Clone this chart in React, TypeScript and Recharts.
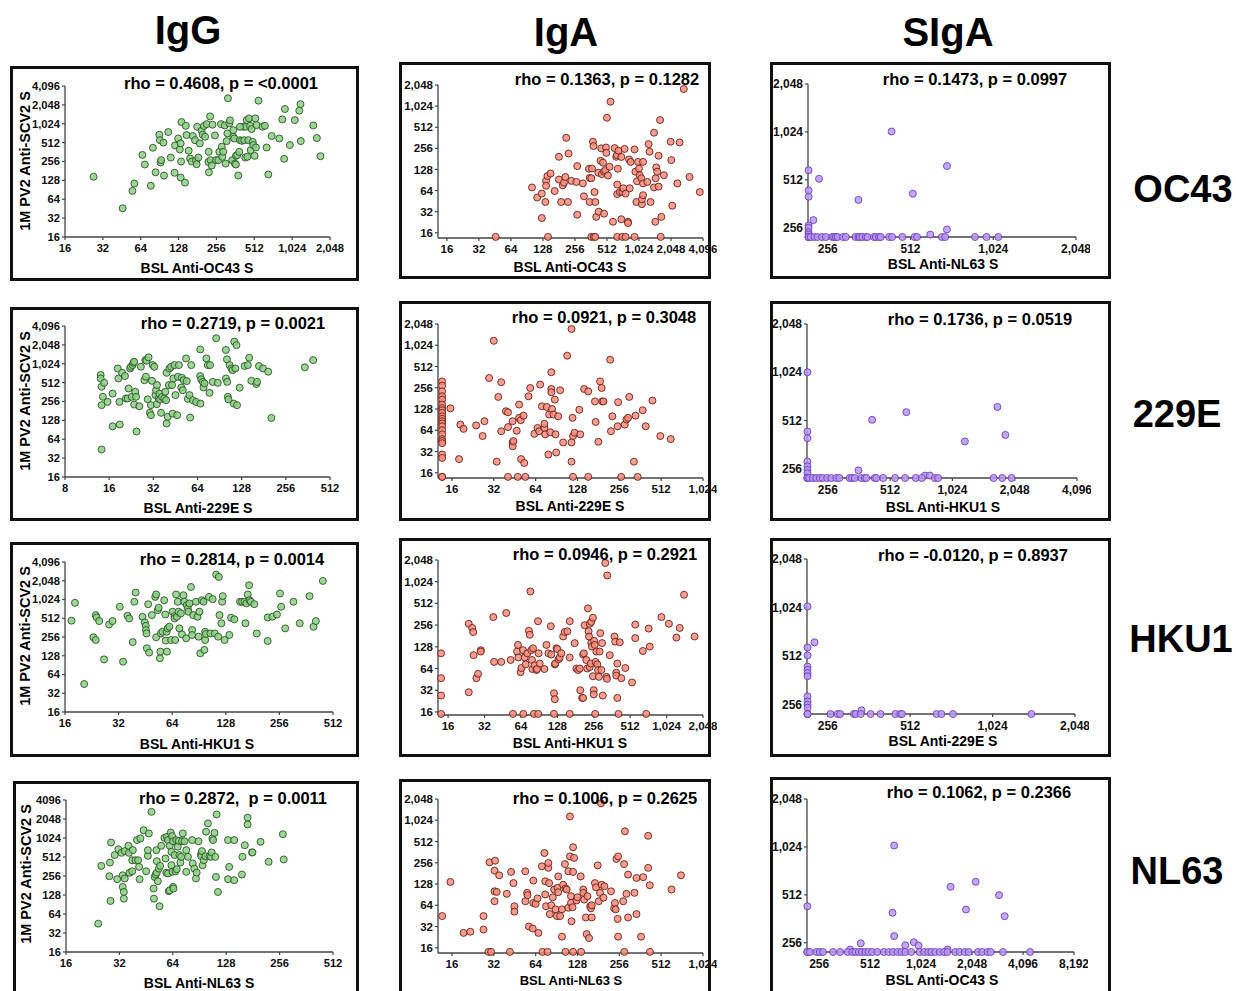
import React from 'react';
import { ScatterChart, Scatter, XAxis, YAxis } from 'recharts';

type Pt = [number, number];

// ---------- tick labels ----------
const iggYTicks = [16, 32, 64, 128, 256, 512, 1024, 2048, 4096];
const igaYTicks = [16, 32, 64, 128, 256, 512, 1024, 2048];
const sigaYTicks = [256, 512, 1024, 2048];
const iggOC43XTicks = [16, 32, 64, 128, 256, 512, 1024, 2048];
const igg229EXTicks = [8, 16, 32, 64, 128, 256, 512];
const iggHKU1XTicks = [16, 32, 64, 128, 256, 512];
const iggNL63XTicks = [16, 32, 64, 128, 256, 512];
const igaOC43XTicks = [16, 32, 64, 128, 256, 512, 1024, 2048, 4096];
const iga229EXTicks = [16, 32, 64, 128, 256, 512, 1024];
const igaHKU1XTicks = [16, 32, 64, 128, 256, 512, 1024, 2048];
const igaNL63XTicks = [16, 32, 64, 128, 256, 512, 1024];
const sigaNL63XTicks = [256, 512, 1024, 2048];
const sigaHKU1XTicks = [256, 512, 1024, 2048, 4096];
const siga229EXTicks = [256, 512, 1024, 2048];
const sigaOC43XTicks = [256, 512, 1024, 2048, 4096, 8192];

const columnTitles = ['IgG', 'IgA', 'SIgA'];
const rowTitles = ['OC43', '229E', 'HKU1', 'NL63'];
const yAxisTitle = '1M PV2 Anti-SCV2 S';
const rhoLabels = [
  'rho = 0.4608, p = <0.0001', 'rho = 0.1363, p = 0.1282', 'rho = 0.1473, p = 0.0997',
  'rho = 0.2719, p = 0.0021', 'rho = 0.0921, p = 0.3048', 'rho = 0.1736, p = 0.0519',
  'rho = 0.2814, p = 0.0014', 'rho = 0.0946, p = 0.2921', 'rho = -0.0120, p = 0.8937',
  'rho = 0.2872,  p = 0.0011', 'rho = 0.1006, p = 0.2625', 'rho = 0.1062, p = 0.2366',
];
const xLabels = [
  'BSL Anti-OC43 S', 'BSL Anti-OC43 S', 'BSL Anti-NL63 S',
  'BSL Anti-229E S', 'BSL Anti-229E S', 'BSL Anti-HKU1 S',
  'BSL Anti-HKU1 S', 'BSL Anti-HKU1 S', 'BSL Anti-229E S',
  'BSL Anti-NL63 S', 'BSL Anti-NL63 S', 'BSL Anti-OC43 S',
];

// ---------- data ----------
const iggOC43: Pt[] = [[27,146],[46,46],[55,87],[57,114],[66,326],[69,229],[77,105],[80,424],[84,172],[90,685],[91,560],[92,247],[93,269],[97,512],[98,153],[106,755],[111,296],[119,169],[120,461],[127,596],[131,399],[133,498],[134,256],[135,1090],[133,142],[144,118],[146,949],[148,676],[154,380],[158,286],[163,256],[166,653],[173,560],[176,265],[178,232],[180,917],[184,296],[189,498],[195,792],[199,685],[204,942],[208,635],[214,1010],[221,252],[222,365],[223,172],[228,1341],[230,269],[235,221],[238,989],[249,666],[254,269],[265,269],[270,365],[278,1010],[282,440],[285,304],[290,365],[298,962],[303,237],[309,541],[313,719],[316,2610],[324,1038],[328,1160],[342,269],[349,809],[349,635],[355,596],[359,237],[366,315],[366,229],[375,324],[382,153],[389,365],[394,560],[408,547],[418,917],[426,560],[434,296],[440,917],[446,1170],[451,304],[459,560],[465,1245],[474,949],[479,388],[488,843],[497,526],[503,468],[515,315],[522,1245],[528,428],[534,975],[553,2390],[596,917],[622,949],[662,159],[642,428],[704,653],[809,596],[855,1202],[885,282],[897,1758],[982,468],[1075,1170],[1167,1652],[1193,2105],[1200,541],[1510,962],[1610,605],[1720,311],[394,917]];

const igaOC43: Pt[] = [[46,14],[143,14],[365,14],[385,14],[398,14],[640,14],[714,14],[767,14],[930,14],[1640,14],[101,71],[113,51],[125,58],[125,26],[135,44],[137,88],[137,75],[141,103],[151,112],[165,63],[181,194],[181,92],[190,44],[197,76],[202,83],[208,100],[212,362],[220,44],[223,216],[237,88],[264,85],[269,143],[269,29],[304,81],[311,53],[347,131],[352,97],[352,44],[365,96],[370,132],[378,318],[383,276],[391,61],[398,44],[406,27],[425,115],[428,32],[446,170],[452,256],[458,110],[470,160],[481,119],[481,30],[494,125],[502,263],[505,221],[512,699],[523,105],[542,140],[553,1184],[583,23],[605,258],[626,194],[635,205],[640,57],[640,78],[648,131],[657,237],[676,61],[699,193],[699,25],[714,61],[730,69],[750,251],[767,58],[808,23],[808,22],[826,178],[838,69],[855,164],[930,247],[948,119],[968,44],[982,87],[1004,164],[1024,132],[1040,106],[1077,96],[1092,41],[1092,48],[1118,55],[1118,81],[1118,164],[1229,85],[1263,294],[1287,229],[1315,44],[1418,71],[1418,428],[1458,23],[1469,96],[1489,137],[1520,119],[1566,73],[1566,201],[1617,648],[1663,27],[1758,106],[2034,318],[2060,174],[2105,39],[2350,81],[2470,311],[2700,1795],[3060,100],[3820,61]];

const sigaNL63: Pt[] = [[218,588],[218,439],[218,401],[218,265],[218,256],[218,240],[218,232],[218,224],[218,224],[218,224],[437,1030],[695,625],[522,419],[331,383],[695,250],[604,232],[238,520],[227,286],[222,224],[229,224],[235,224],[244,224],[252,224],[266,224],[270,224],[274,224],[278,224],[291,224],[298,224],[323,224],[331,224],[335,224],[342,224],[352,224],[357,224],[377,224],[383,224],[393,224],[399,224],[428,224],[439,224],[478,224],[530,224],[541,224],[666,224],[685,224],[879,224],[968,224],[1068,224]];

const igg229E: Pt[] = [[14.0,676],[14.0,596],[14.2,440],[14.2,224],[14.2,44],[14.5,304],[14.8,508],[15.6,252],[16.9,342],[16.9,103],[18.3,861],[18.5,596],[18.8,252],[18.9,110],[19.6,734],[20.5,652],[20.8,286],[21.4,286],[21.7,413],[22.2,861],[22.5,917],[22.8,304],[23.1,975],[23.4,1061],[23.7,1103],[23.7,229],[24.1,365],[24.4,304],[24.6,85],[25.7,215],[26.3,917],[27.8,560],[28.2,1170],[28.5,635],[28.8,1143],[29.3,278],[29.7,1296],[30.3,169],[30.8,155],[30.8,224],[31.3,547],[31.7,975],[32.5,917],[33.1,324],[33.4,388],[33.8,232],[33.9,468],[34.8,286],[35.2,342],[35.6,276],[36.1,169],[36.7,304],[38.0,286],[38.6,365],[39.1,269],[39.4,114],[39.4,734],[40.1,146],[40.8,468],[41.2,861],[42.3,917],[42.9,468],[43.3,164],[43.8,596],[44.6,975],[45.3,324],[46.5,155],[47.0,635],[47.8,975],[49.6,428],[50.0,613],[50.8,388],[51.6,560],[53.5,1245],[54.0,541],[55.0,282],[56.4,324],[57.0,142],[58.0,975],[59.5,269],[62.6,252],[67.0,237],[66.8,1733],[66.8,652],[67.8,578],[69.6,526],[70.3,428],[71.5,498],[73.5,1245],[75.3,975],[77.3,352],[78.0,975],[81.3,526],[85.8,2610],[88.0,508],[100,1698],[100,596],[101.6,1202],[102,526],[103,304],[104,276],[106,975],[109,861],[111,809],[113,237],[114,2300],[116,861],[118,2030],[119,224],[124,425],[134,942],[141,975],[144,1278],[149,547],[161,486],[163,526],[168,942],[179,861],[194,765],[204,140],[345,898],[393,1170]];

const iga229E: Pt[] = [[13.6,315],[13.6,274],[13.6,228],[13.6,194],[13.6,174],[13.6,148],[13.6,132],[13.6,123],[13.6,113],[13.6,101],[13.6,93],[13.6,86],[13.6,80],[13.6,73],[13.6,64],[13.6,56],[13.6,48],[13.6,45],[13.6,42],[13.6,29],[13.6,26],[13.6,14],[13.6,14],[15.6,131],[18.4,77],[18.0,25],[19.4,67],[23.9,75],[26.6,53],[27.4,86],[29.6,352],[32,1184],[33.6,23],[36.2,62],[36.2,307],[34.5,190],[39.1,119],[40.5,115],[40.5,71],[43.7,86],[43.7,43],[43.8,38],[44.3,45],[46.8,63],[48.7,96],[50,89],[52.4,103],[50.3,25],[53,22],[48.7,148],[56.9,194],[58.5,254],[62.7,57],[66,69],[67.8,62],[69,284],[71,140],[74,69],[75,56],[74,79],[77,137],[79,29],[80,107],[81.6,60],[83,425],[83,246],[83,221],[84,128],[86,107],[88,174],[89,56],[90,31],[93,101],[96,236],[101,43],[108,729],[116,23],[118,96],[119,53],[116,43],[122,59],[132,125],[134,56],[143,246],[153,228],[171,164],[173,84],[181,44],[186,315],[191,254],[193,164],[197,164],[220,639],[223,62],[228,101],[249,73],[251,160],[280,77],[288,91],[296,96],[302,190],[326,23],[335,103],[377,123],[396,73],[443,169],[505,53],[600,48],[116,1740],[40.5,14],[47.6,14],[54,14],[119,14],[153,14],[264,14],[347,14]];

const sigaHKU1: Pt[] = [[204,1024],[204,437],[204,397],[204,284],[204,265],[204,252],[204,240],[204,224],[204,224],[204,224],[419,517],[613,577],[1176,379],[1690,622],[1846,416],[360,250],[755,232],[797,232],[208,224],[217,224],[225,224],[234,224],[242,224],[254,224],[266,224],[281,224],[291,224],[326,224],[335,224],[345,224],[372,224],[386,224],[393,224],[431,224],[439,224],[474,224],[541,224],[605,224],[681,224],[729,224],[843,224],[873,224],[1618,224],[1783,224],[1978,224]];

const iggHKU1: Pt[] = [[17.4,468],[18.2,905],[20.5,45],[23.1,253],[23.8,229],[23.8,575],[24.1,528],[24.9,461],[26.5,112],[28.3,407],[29.6,461],[32.5,782],[33.9,103],[35.9,560],[36.7,508],[38.4,212],[39.2,942],[39.9,1323],[43.6,541],[44.9,440],[45.5,388],[45.6,331],[45.9,292],[46.1,169],[46.9,861],[47.5,144],[49.2,575],[51.4,1128],[52,1234],[52,253],[53.1,690],[53.7,753],[54.6,117],[54.9,149],[55.3,292],[56.5,311],[57.7,996],[58.5,588],[58.9,224],[59.6,311],[59.8,149],[60.3,352],[61.7,374],[63.1,229],[64.4,652],[66,555],[66,508],[66.5,229],[67.3,1234],[68,541],[68.8,942],[69.4,652],[70.2,352],[71.6,614],[72.6,282],[74,1200],[75,942],[76.7,244],[77.3,832],[78.4,734],[78.9,652],[79.9,885],[81.6,1630],[82.8,331],[82.8,276],[84,575],[87,942],[88.8,541],[90,259],[91,652],[92,140],[94,996],[96,942],[97,159],[98,311],[98,229],[99,286],[103,1128],[105,292],[108,1038],[111,292],[113,2576],[116,259],[117,2356],[118,575],[121,425],[122,942],[123,1160],[126,229],[134,276],[137,523],[143,492],[154,942],[158,942],[163,942],[165,425],[167,885],[170,1234],[173,1733],[174,996],[177,942],[185,861],[191,292],[220,526],[220,221],[234,541],[248,588],[258,1278],[262,782],[276,352],[307,942],[333,425],[378,1160],[398,374],[410,461],[449,2034]];

const igaHKU1: Pt[] = [[14,104],[14,47],[14,27],[14,15],[23.7,267],[25.3,234],[25.8,205],[26,98],[23.7,30],[27.4,47],[28.3,54],[29.8,115],[29.8,110],[37.8,331],[38.4,79],[44,79],[48.4,377],[52.6,84],[59.5,110],[60.5,136],[61,91],[63.6,57],[64.6,65],[66.6,115],[68.7,91],[70,73],[72.3,104],[74.5,214],[75.7,188],[76.6,750],[78,115],[79,84],[79.6,63],[80.6,122],[83,71],[86,61],[87,63],[88.6,290],[89.7,104],[91.5,75],[100,63],[104,136],[108,104],[113,247],[114,100],[122,73],[123,75],[120,29],[122,24],[126,122],[128,119],[131,86],[134,91],[138,104],[143,178],[147,205],[155,210],[162,91],[162,290],[178,144],[184,64],[190,61],[196,64],[198,32],[205,25],[209,25],[209,100],[212,104],[215,255],[222,84],[226,64],[229,437],[232,210],[234,178],[237,267],[237,67],[242,75],[244,284],[244,144],[247,129],[252,324],[252,50],[256,32],[256,28],[258,155],[261,136],[265,79],[269,110],[274,73],[278,61],[282,49],[286,110],[290,198],[296,61],[300,144],[304,27],[319,1860],[331,1250],[326,49],[329,46],[347,98],[380,178],[385,151],[393,56],[393,51],[401,75],[401,25],[420,148],[433,47],[467,65],[530,41],[564,260],[564,169],[652,112],[728,229],[743,129],[928,331],[1070,267],[1235,172],[1315,234],[1428,676],[1745,178],[55,15],[67,15],[82,15],[89,15],[120,15],[162,15],[263,15],[410,15],[695,15]];

const siga229E: Pt[] = [[216,1040],[216,579],[216,517],[216,441],[216,421],[216,402],[216,384],[216,288],[216,268],[216,256],[216,245],[216,224],[216,224],[216,224],[229,623],[340,236],[262,224],[278,224],[284,224],[319,224],[324,224],[338,224],[367,224],[399,224],[452,224],[471,224],[478,224],[639,224],[666,224],[734,224],[1419,224]];

const iggNL63: Pt[] = [[24.3,45],[25.3,370],[28.3,418],[28.1,254],[28.7,867],[28.5,103],[30.1,549],[31.1,228],[31.6,680],[32.9,596],[33.4,263],[33.4,172],[33.9,143],[33.9,112],[34.3,234],[34.3,635],[36.0,771],[36.2,596],[36.5,288],[37.8,455],[37.8,304],[38.1,657],[39.4,455],[40.2,949],[40.8,455],[41.3,357],[41.6,228],[42.0,1010],[43.8,1362],[45.3,304],[46.3,534],[46.3,657],[46.9,1210],[48.5,2660],[49.9,162],[50.1,112],[50.6,247],[51.3,270],[51.7,657],[52.0,290],[52.0,440],[52.7,212],[53.4,335],[53.9,85],[54.3,370],[55.1,771],[57.4,1030],[58.2,484],[58.8,288],[59.3,1069],[60.1,949],[60.1,281],[60.7,147],[61.5,771],[61.5,152],[62.3,1250],[62.9,617],[62.9,380],[63.4,1098],[63.7,298],[64.2,910],[64.2,172],[64.6,162],[65.5,549],[66.3,304],[66.9,949],[67.4,328],[68.3,744],[69.2,923],[69.7,549],[70.6,418],[71.3,515],[72.2,910],[72.9,1210],[74.5,910],[76.2,657],[76.2,298],[77.9,515],[82.3,949],[82.9,405],[84.6,335],[86.4,234],[87.2,290],[89.4,910],[92.2,560],[92.6,527],[93.4,635],[94.2,380],[95.7,455],[97.8,527],[98.6,1287],[101,1745],[103,527],[105,515],[106,605],[107,1010],[108,949],[110,1234],[111,515],[112,247],[113,2420],[115,143],[131,949],[133,357],[131,228],[142,949],[142,220],[157,270],[158,515],[163,786],[169,2150],[169,1675],[179,605],[180,605],[200,891],[222,430],[267,1176],[270,468]];

const igaNL63: Pt[] = [[13.6,45],[15.6,137],[19.4,26],[21.7,27],[27,45],[27,29],[29.8,260],[32.4,101],[32.4,73],[32.7,274],[32.4,198],[33.6,99],[35,170],[39.7,93],[42.6,190],[44.3,132],[45,62],[45,52],[53.9,194],[54,73],[55.6,96],[56,89],[57.3,32],[61,30],[61.6,143],[61.6,69],[64,67],[66,80],[67,26],[71,228],[74,352],[75,140],[75,91],[76,62],[79,217],[79,254],[80,132],[81,48],[83,64],[85,83],[87,107],[89,56],[91,45],[92,113],[93,164],[93,98],[96,45],[99,23],[99,56],[101,125],[104,245],[105,111],[107,107],[110,194],[110,59],[113,1160],[113,315],[115,86],[115,69],[116,38],[118,60],[119,190],[119,425],[121,300],[126,75],[128,83],[135,164],[141,107],[141,96],[143,77],[147,43],[149,25],[151,86],[155,22],[158,62],[160,58],[162,64],[162,43],[171,132],[174,115],[179,235],[182,73],[186,96],[191,125],[197,82],[200,119],[223,101],[235,58],[238,69],[241,56],[244,290],[249,41],[251,315],[251,23],[273,73],[277,245],[281,715],[288,93],[296,174],[296,43],[329,96],[340,156],[340,48],[367,23],[380,160],[413,217],[413,617],[424,123],[608,107],[711,170],[189,1780],[29.3,14],[30.6,14],[41.8,14],[71.7,14],[78,14],[105,14],[119,14],[136,14],[278,14],[425,14]];

const sigaOC43: Pt[] = [[218,434],[218,224],[218,224],[710,1045],[1530,575],[2150,618],[1885,414],[2956,510],[3190,376],[694,395],[710,282],[451,254],[928,258],[990,246],[826,247],[390,232],[1468,232],[226,224],[247,224],[258,224],[270,224],[309,224],[340,224],[377,224],[402,224],[419,224],[439,224],[458,224],[481,224],[501,224],[526,224],[564,224],[617,224],[660,224],[700,224],[743,224],[783,224],[826,224],[896,224],[1003,224],[1068,224],[1128,224],[1178,224],[1242,224],[1320,224],[1400,224],[1465,224],[1630,224],[1730,224],[1855,224],[1955,224],[2220,224],[2350,224],[2525,224],[2640,224],[3120,224],[4510,224]];

// ---------- styles / layout ----------
const FONT = "'Liberation Sans', Arial, Helvetica, sans-serif";
const STYLE: Record<string, { fill: string; stroke: string; tick: number }> = {
  igg: { fill: '#8ccf84', stroke: '#2a5626', tick: 11.2 },
  iga: { fill: '#f68d7f', stroke: '#6a2016', tick: 11.5 },
  siga: { fill: '#bb98f0', stroke: '#6b3fc0', tick: 12 },
};

type PanelCfg = {
  data: Pt[]; kind: string; box: number[]; plot: number[];
  xDomain: number[]; yDomain: number[]; xTicks: number[]; yTicks: number[];
  comma: boolean; rhoXY: number[]; xLabelXY: number[]; yLabelXY?: number[]; xLabelSize?: number;
};

const PANELS: PanelCfg[] = [
  { data: iggOC43, kind: 'igg', box: [10, 66, 359, 281], plot: [65, 86, 330, 237], xDomain: [16, 2048], yDomain: [16, 4096], xTicks: iggOC43XTicks, yTicks: iggYTicks, comma: true, rhoXY: [221, 89], xLabelXY: [197, 273], yLabelXY: [30, 161] },
  { data: igaOC43, kind: 'iga', box: [399, 62, 711, 279], plot: [438, 85, 703, 238], xDomain: [13.2, 4096], yDomain: [13.5, 2048], xTicks: igaOC43XTicks, yTicks: igaYTicks, comma: true, rhoXY: [607, 85], xLabelXY: [570, 271.5] },
  { data: sigaNL63, kind: 'siga', box: [770, 62, 1111, 279], plot: [808, 84, 1076, 237], xDomain: [217, 2048], yDomain: [224, 2048], xTicks: sigaNL63XTicks, yTicks: sigaYTicks, comma: true, rhoXY: [975, 84.5], xLabelXY: [943, 269] },

  { data: igg229E, kind: 'igg', box: [10, 307, 359, 521], plot: [65, 326, 330, 477], xDomain: [8, 512], yDomain: [16, 4096], xTicks: igg229EXTicks, yTicks: iggYTicks, comma: true, rhoXY: [233, 329], xLabelXY: [198, 512.5], yLabelXY: [30, 401] },
  { data: iga229E, kind: 'iga', box: [399, 301, 711, 521], plot: [438, 324, 703, 478], xDomain: [12.7, 1024], yDomain: [13.5, 2048], xTicks: iga229EXTicks, yTicks: igaYTicks, comma: true, rhoXY: [604, 323], xLabelXY: [570, 511] },
  { data: sigaHKU1, kind: 'siga', box: [770, 301, 1111, 521], plot: [807, 324, 1077, 478], xDomain: [203, 4096], yDomain: [224, 2048], xTicks: sigaHKU1XTicks, yTicks: sigaYTicks, comma: true, rhoXY: [980, 325], xLabelXY: [943, 511.5] },

  { data: iggHKU1, kind: 'igg', box: [10, 542, 359, 757], plot: [65, 562, 333, 712], xDomain: [16, 512], yDomain: [16, 4096], xTicks: iggHKU1XTicks, yTicks: iggYTicks, comma: true, rhoXY: [232, 565], xLabelXY: [197, 749], yLabelXY: [30, 636] },
  { data: igaHKU1, kind: 'iga', box: [399, 538, 711, 757], plot: [438, 560, 703, 715], xDomain: [13.2, 2048], yDomain: [14.5, 2048], xTicks: igaHKU1XTicks, yTicks: igaYTicks, comma: true, rhoXY: [605, 560], xLabelXY: [570, 748] },
  { data: siga229E, kind: 'siga', box: [770, 538, 1111, 757], plot: [807, 559, 1075, 714], xDomain: [215, 2048], yDomain: [224, 2048], xTicks: siga229EXTicks, yTicks: sigaYTicks, comma: true, rhoXY: [973, 561], xLabelXY: [943, 746] },

  { data: iggNL63, kind: 'igg', box: [13, 781, 359, 996], plot: [66, 800, 333, 952], xDomain: [16, 512], yDomain: [16, 4096], xTicks: iggNL63XTicks, yTicks: iggYTicks, comma: false, rhoXY: [233, 804], xLabelXY: [199, 988], yLabelXY: [31, 874] },
  { data: igaNL63, kind: 'iga', box: [399, 779, 711, 996], plot: [438, 799, 703, 953], xDomain: [12.7, 1024], yDomain: [13.5, 2048], xTicks: igaNL63XTicks, yTicks: igaYTicks, comma: true, rhoXY: [605, 804], xLabelXY: [571, 985], xLabelSize: 13 },
  { data: sigaOC43, kind: 'siga', box: [770, 777, 1111, 996], plot: [807, 799, 1074, 952], xDomain: [217, 8192], yDomain: [224, 2048], xTicks: sigaOC43XTicks, yTicks: sigaYTicks, comma: true, rhoXY: [979, 798], xLabelXY: [942, 985] },
];

const YW = 60, MT = 8, MR = 14, XH = 30;

function Panel({ p }: { p: PanelCfg }) {
  const [l, t, r, b] = p.plot;
  const w = r - l + YW + MR;
  const h = b - t + MT + XH;
  const st = STYLE[p.kind];
  const rows = p.data.map(([x, y]) => ({ x, y }));
  const fmt = (v: number) => (p.comma ? v.toLocaleString('en-US') : String(v));
  const tickStyle = { fill: '#111', fontSize: st.tick, fontWeight: 700, fontFamily: FONT };
  const dot = (props: any) => (
    <circle cx={props.cx} cy={props.cy} r={3.5} fill={st.fill} fillOpacity={0.85} stroke={st.stroke} strokeWidth={0.9} />
  );
  return (
    <div style={{ position: 'absolute', left: l - YW, top: t - MT, width: w, height: h }}>
      <ScatterChart width={w} height={h} margin={{ top: MT, right: MR, bottom: 0, left: 0 }}>
        <XAxis
          type="number" dataKey="x" scale="log" domain={p.xDomain} ticks={p.xTicks} interval={0}
          tickFormatter={fmt} height={XH} tickSize={3} tickMargin={4}
          tick={tickStyle} axisLine={{ stroke: '#444', strokeWidth: 1.3 }} tickLine={{ stroke: '#444', strokeWidth: 1.2 }}
        />
        <YAxis
          type="number" dataKey="y" scale="log" domain={p.yDomain} ticks={p.yTicks} interval={0}
          tickFormatter={fmt} width={YW} tickSize={3} tickMargin={2}
          tick={tickStyle} axisLine={{ stroke: '#444', strokeWidth: 1.3 }} tickLine={{ stroke: '#444', strokeWidth: 1.2 }}
        />
        <Scatter data={rows} isAnimationActive={false} shape={dot} />
      </ScatterChart>
    </div>
  );
}

export default function App() {
  return (
    <div style={{ position: 'absolute', left: 0, top: 0, width: 1236, height: 991, overflow: 'hidden', background: '#fff', fontFamily: FONT }}>
      {PANELS.map((p, i) => (
        <div key={'b' + i} style={{
          position: 'absolute', left: p.box[0], top: p.box[1], width: p.box[2] - p.box[0], height: p.box[3] - p.box[1],
          border: '3px solid #111', boxSizing: 'border-box',
        }} />
      ))}
      {PANELS.map((p, i) => <Panel key={'p' + i} p={p} />)}
      <svg width={1236} height={991} style={{ position: 'absolute', left: 0, top: 0, pointerEvents: 'none' }}>
        <g fontFamily={FONT} fontWeight={700} fill="#000">
          <text x={188} y={44} fontSize={40} textAnchor="middle">{columnTitles[0]}</text>
          <text x={566} y={46} fontSize={40} textAnchor="middle">{columnTitles[1]}</text>
          <text x={948} y={46} fontSize={40} textAnchor="middle">{columnTitles[2]}</text>
          <text x={1183} y={201.5} fontSize={38} textAnchor="middle">{rowTitles[0]}</text>
          <text x={1177} y={426.5} fontSize={38} textAnchor="middle">{rowTitles[1]}</text>
          <text x={1181} y={651.5} fontSize={38} textAnchor="middle">{rowTitles[2]}</text>
          <text x={1177} y={883.5} fontSize={38} textAnchor="middle">{rowTitles[3]}</text>
          {PANELS.map((p, i) => (
            <g key={'t' + i}>
              <text x={p.rhoXY[0]} y={p.rhoXY[1]} fontSize={16.5} textAnchor="middle" style={{ whiteSpace: 'pre' }}>{rhoLabels[i]}</text>
              <text x={p.xLabelXY[0]} y={p.xLabelXY[1]} fontSize={p.xLabelSize || 14} textAnchor="middle">{xLabels[i]}</text>
              {p.yLabelXY ? (
                <text x={p.yLabelXY[0]} y={p.yLabelXY[1]} fontSize={14.5} textAnchor="middle"
                  transform={`rotate(-90 ${p.yLabelXY[0]} ${p.yLabelXY[1]})`}>{yAxisTitle}</text>
              ) : null}
            </g>
          ))}
        </g>
      </svg>
    </div>
  );
}
